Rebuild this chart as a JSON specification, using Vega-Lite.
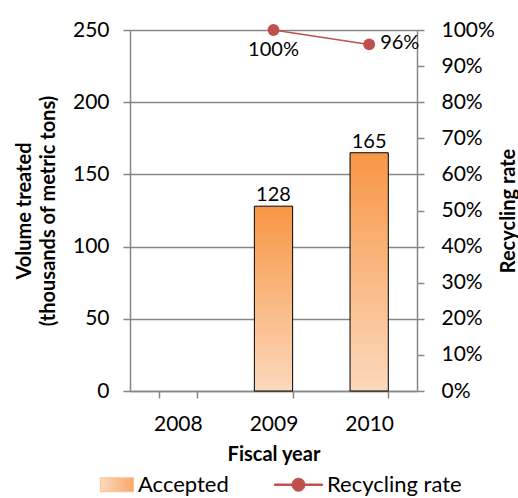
{
  "$schema": "https://vega.github.io/schema/vega-lite/v6.json",
  "width": 287,
  "height": 361,
  "autosize": "none",
  "padding": {"left": 130, "top": 30, "right": 101, "bottom": 107},
  "background": "white",
  "title": {
    "text": "♦  Rubble and Construction Sludge",
    "anchor": "start",
    "frame": "group",
    "dx": -105,
    "offset": 29,
    "baseline": "alphabetic",
    "font": "Lato",
    "fontSize": 22,
    "fontWeight": "normal",
    "color": "#000000"
  },
  "config": {
    "view": {"stroke": null},
    "font": "Lato",
    "axis": {
      "labelFont": "Lato",
      "labelFontSize": 21,
      "labelColor": "#000000",
      "labelOverlap": false,
      "titleFont": "Lato",
      "titleFontSize": 20,
      "titleFontWeight": "bold",
      "titleColor": "#000000",
      "domainColor": "#868686",
      "domainWidth": 1.5,
      "tickColor": "#868686",
      "tickWidth": 1.5,
      "tickSize": 7,
      "gridColor": "#868686",
      "gridWidth": 1.3
    }
  },
  "data": {
    "values": [
      {"year": "2008", "accepted": null, "rate": null},
      {"year": "2009", "accepted": 128, "rate": 1.0},
      {"year": "2010", "accepted": 165, "rate": 0.96}
    ]
  },
  "encoding": {
    "x": {
      "field": "year",
      "type": "ordinal",
      "scale": {"paddingInner": 0.6, "paddingOuter": 0.3},
      "axis": {
        "title": "Fiscal year",
        "labelAngle": 0,
        "tickBand": "extent",
        "labelPadding": 15,
        "titlePadding": 10,
        "grid": false
      }
    }
  },
  "layer": [
    {
      "encoding": {
        "y": {
          "field": "accepted",
          "type": "quantitative",
          "scale": {"domain": [0, 250], "nice": false},
          "axis": {
            "orient": "left",
            "title": ["Volume treated", "(thousands of metric tons)"],
            "values": [0, 50, 100, 150, 200, 250],
            "grid": true,
            "labelPadding": 14,
            "titlePadding": 14,
            "titleLineHeight": 24
          }
        }
      },
      "layer": [
        {
          "mark": {
            "type": "bar",
            "stroke": "#000000",
            "strokeWidth": 1,
            "fill": {
              "gradient": "linear",
              "x1": 0, "y1": 0, "x2": 0, "y2": 1,
              "stops": [
                {"offset": 0, "color": "#F79646"},
                {"offset": 1, "color": "#FCD9BC"}
              ]
            }
          }
        },
        {
          "mark": {"type": "text", "baseline": "bottom", "dy": -1, "font": "Lato", "fontSize": 20, "color": "#000000"},
          "encoding": {
            "text": {"field": "accepted", "type": "quantitative"}
          }
        }
      ]
    },
    {
      "encoding": {
        "y": {
          "field": "rate",
          "type": "quantitative",
          "scale": {"domain": [0, 1], "nice": false},
          "axis": {
            "orient": "right",
            "title": "Recycling rate",
            "values": [0, 0.1, 0.2, 0.3, 0.4, 0.5, 0.6, 0.7, 0.8, 0.9, 1.0],
            "format": ".0%",
            "grid": false,
            "labelOverlap": false,
            "labelPadding": 17,
            "titleAngle": -90,
            "titleBaseline": "top",
            "titlePadding": 4
          }
        }
      },
      "layer": [
        {
          "mark": {"type": "line", "strokeWidth": 1.5},
          "encoding": {
            "color": {
              "datum": "Recycling rate",
              "type": "nominal",
              "scale": {"domain": ["Accepted", "Recycling rate"], "range": ["#FBC08E", "#C0504D"]},
              "legend": {
                "title": null,
                "orient": "none",
                "direction": "horizontal",
                "legendX": -45,
                "legendY": 430,
                "labelFont": "Lato",
                "labelFontSize": 22,
                "labelColor": "#000000",
                "labelOffset": 4,
                "columnPadding": 43,
                "symbolSize": 2304,
                "symbolStrokeWidth": 1,
                "encode": {
                  "symbols": {
                    "update": {
                      "shape": {"signal": "datum.value === 'Accepted' ? 'M-0.38,-0.29H1V0.29H-0.38Z' : 'M-1,-0.03H1V0.03H-1Z M0.27,0A0.27,0.27,0,1,1,-0.27,0A0.27,0.27,0,1,1,0.27,0Z'"},
                      "fill": {"signal": "datum.value === 'Accepted' ? {gradient: 'linear', x1: 0, y1: 0, x2: 1, y2: 0, stops: [{offset: 0, color: '#FCD9BC'}, {offset: 1, color: '#F8A868'}]} : '#C0504D'"},
                      "stroke": {"signal": "datum.value === 'Accepted' ? '#000000' : '#C0504D'"}
                    }
                  }
                }
              }
            }
          }
        },
        {
          "mark": {"type": "point", "filled": true, "size": 140, "color": "#C0504D", "opacity": 1}
        },
        {
          "transform": [{"filter": "datum.year === '2009'"}],
          "mark": {"type": "text", "baseline": "top", "dy": 10, "font": "Lato", "fontSize": 20, "color": "#000000"},
          "encoding": {
            "text": {"field": "rate", "type": "quantitative", "format": ".0%"}
          }
        },
        {
          "transform": [{"filter": "datum.year === '2010'"}],
          "mark": {"type": "text", "align": "left", "baseline": "middle", "dx": 11, "dy": -1, "font": "Lato", "fontSize": 20, "color": "#000000"},
          "encoding": {
            "text": {"field": "rate", "type": "quantitative", "format": ".0%"}
          }
        }
      ]
    }
  ],
  "resolve": {"scale": {"y": "independent"}}
}
